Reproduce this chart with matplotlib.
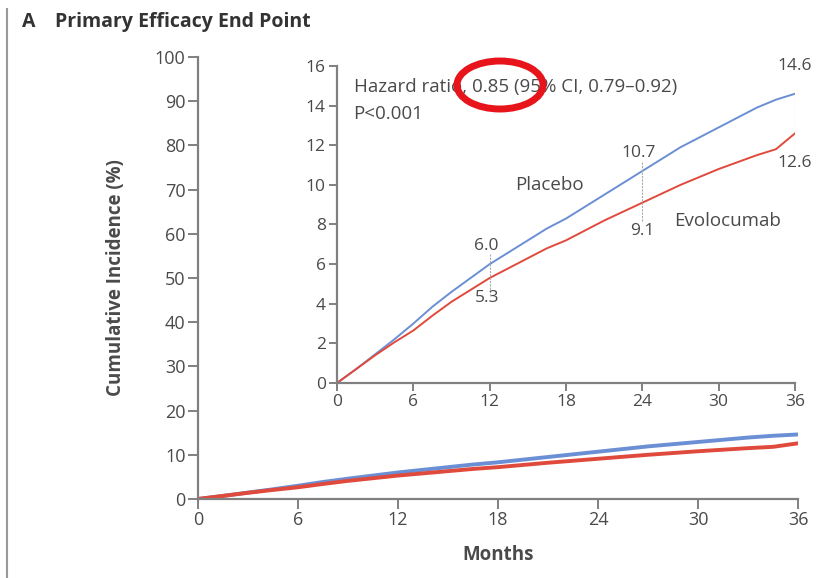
import matplotlib.pyplot as plt
from matplotlib.patches import Ellipse
from matplotlib.lines import Line2D

plt.rcParams['font.family'] = ['Open Sans', 'DejaVu Sans']

months = [0, 1.5, 3, 4.5, 6, 7.5, 9, 10.5, 12, 13.5, 15, 16.5, 18, 19.5, 21, 22.5,
          24, 25.5, 27, 28.5, 30, 31.5, 33, 34.5, 36]
placebo = [0, 0.7, 1.45, 2.2, 3.0, 3.85, 4.6, 5.3, 6.0, 6.6, 7.2, 7.8, 8.3, 8.9,
           9.5, 10.1, 10.7, 11.3, 11.9, 12.4, 12.9, 13.4, 13.9, 14.3, 14.6]
evolocumab = [0, 0.7, 1.4, 2.05, 2.65, 3.4, 4.1, 4.7, 5.3, 5.8, 6.3, 6.8, 7.2, 7.7,
              8.2, 8.65, 9.1, 9.55, 10.0, 10.4, 10.8, 11.15, 11.5, 11.8, 12.6]

xticks = [0, 6, 12, 18, 24, 30, 36]
main_yticks = list(range(0, 101, 10))
inset_yticks = list(range(0, 17, 2))
marks = [(12, 6.0, 5.3), (24, 10.7, 9.1), (36, 14.6, 12.6)]

blue = '#6b8fd4'
red = '#e04a3c'
grey = '#808080'
txt = '#4a4a4a'

fig = plt.figure(figsize=(8.33, 5.78), dpi=100)


def style(ax, size, length):
    for s in ['top', 'right']:
        ax.spines[s].set_visible(False)
    for s in ['left', 'bottom']:
        ax.spines[s].set_color(grey)
        ax.spines[s].set_linewidth(1.6)
    ax.tick_params(colors=grey, labelcolor=txt, labelsize=size, length=length, width=1.4, pad=2)
    ax.set_xticks(xticks)
    ax.set_xlim(0, 36)


ax = fig.add_axes([0.2377, 0.1367, 0.7203, 0.7647])
style(ax, 13, 7)
ax.plot(months, placebo, color=blue, lw=2.8, solid_capstyle='round')
ax.plot(months, evolocumab, color=red, lw=2.8, solid_capstyle='round')
ax.set_ylim(0, 100)
ax.set_yticks(main_yticks)
ax.set_xlabel('Months', fontsize=13.5, fontweight='bold', color=txt, labelpad=11)
ax.set_ylabel('Cumulative Incidence (%)', fontsize=13.5, fontweight='bold', color=txt, labelpad=21)

ins = fig.add_axes([0.4046, 0.3374, 0.5498, 0.5484])
style(ins, 12.5, 6)
ins.patch.set_alpha(0)
ins.plot(months, placebo, color=blue, lw=1.4)
ins.plot(months, evolocumab, color=red, lw=1.4)
ins.set_ylim(0, 16)
ins.set_yticks(inset_yticks)
for m, p, e in marks:
    ins.plot([m, m], [e - 0.9, p + 0.5], color='#aaaaaa', lw=0.8, ls=(0, (2, 1)))
    if m == 36:
        ins.text(m, p + 1.0, f'{p:.1f}', ha='center', va='bottom', fontsize=12.5, color=txt, clip_on=False)
        ins.text(m, e - 1.1, f'{e:.1f}', ha='center', va='top', fontsize=12.5, color=txt)
    elif m == 24:
        ins.text(m - 0.3, p + 0.5, f'{p:.1f}', ha='center', va='bottom', fontsize=12.5, color=txt)
        ins.text(m, e - 1.0, f'{e:.1f}', ha='center', va='top', fontsize=12.5, color=txt)
    else:
        ins.text(m - 0.3, p + 0.5, f'{p:.1f}', ha='center', va='bottom', fontsize=12.5, color=txt)
        ins.text(m - 0.2, e - 0.6, f'{e:.1f}', ha='center', va='top', fontsize=12.5, color=txt)
ins.text(1.3, 14.95, 'Hazard ratio, 0.85 (95% CI, 0.79\u20130.92)', fontsize=13.5, color=txt, va='center')
ins.text(1.3, 13.6, 'P<0.001', fontsize=13.5, color=txt, va='center')
ins.text(14.0, 10.0, 'Placebo', fontsize=13.5, color=txt, va='center')
ins.text(26.5, 8.2, 'Evolocumab', fontsize=13.5, color=txt, va='center')

fig.text(0.026, 0.962, 'A', fontsize=14, fontweight='bold', color='#333333', va='center')
fig.text(0.066, 0.962, 'Primary Efficacy End Point', fontsize=14, fontweight='bold', color='#333333', va='center')
fig.add_artist(Line2D([0.009, 0.009], [0, 0.985], color='#999999', lw=1.5))
fig.add_artist(Ellipse((500 / 833, 1 - 85 / 578), 86 / 833, 48 / 578, transform=fig.transFigure,
                       fill=False, edgecolor='#e8141c', lw=5))

fig.savefig('out.png', dpi=100)
